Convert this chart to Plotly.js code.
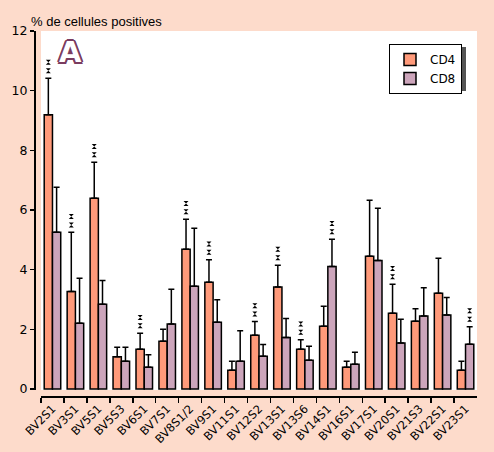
<!DOCTYPE html>
<html>
<head>
<meta charset="utf-8">
<script src="https://cdn.plot.ly/plotly-3.0.1.min.js"></script>
<style>html,body{margin:0;padding:0;background:#FDDBCB;}</style>
</head>
<body>
<div id="chart" style="width:494px;height:452px;"></div>
<script>
const categories = ["BV2S1","BV3S1","BV5S1","BV5S3","BV6S1","BV7S1","BV8S1/2","BV9S1","BV11S1","BV12S2","BV13S1","BV13S6","BV14S1","BV16S1","BV17S1","BV20S1","BV21S3","BV22S1","BV23S1"];
const cd4 = [9.19,3.27,6.39,1.08,1.33,1.60,4.68,3.58,0.63,1.80,3.42,1.33,2.10,0.73,4.45,2.54,2.27,3.21,0.63];
const cd4Err = [1.23,1.98,1.21,0.32,0.54,0.40,1.01,0.75,0.30,0.46,0.73,0.32,0.67,0.20,1.88,0.97,0.42,1.17,0.30];
const cd8 = [5.25,2.20,2.84,0.93,0.73,2.18,3.44,2.24,0.93,1.10,1.73,0.96,4.11,0.83,4.31,1.54,2.45,2.48,1.50];
const cd8Err = [1.51,1.51,0.80,0.47,0.42,1.16,1.95,0.75,1.02,0.39,0.63,0.47,0.91,0.40,1.75,0.80,0.94,0.59,0.59];
const cd4Sig = [1,1,1,0,1,0,1,1,0,1,1,1,0,0,0,1,0,0,0];
const cd8Sig = [0,0,0,0,0,0,0,0,0,0,0,0,1,0,0,0,0,0,1];
const yTitle = "% de cellules positives";
const seriesNames = ["CD4","CD8"];

const C4 = "#FF9A7A", C8 = "#CCA5BB", BG = "#FDDBCB";
const W = 494, H = 452;
const BW = 0.36;

function stars(vals, errs, sig, shift){
  const xs = [], ys = [];
  vals.forEach((v,i)=>{
    if(sig[i]){
      const top = v + errs[i];
      xs.push(i+shift, i+shift);
      ys.push(top+0.25, top+0.53);
    }
  });
  return {x:xs, y:ys, xaxis:'x2', yaxis:'y', type:'scatter', mode:'markers',
    marker:{symbol:'hourglass', size:5, color:'black', line:{width:0}},
    showlegend:false, hoverinfo:'skip'};
}

const err = (a)=>({type:'data', symmetric:false, array:a, arrayminus:a.map(()=>0), color:'black', thickness:1.5, width:3});

const traces = [
  {type:'bar', name:seriesNames[0], x:categories, y:cd4, width:BW, offset:-BW,
   marker:{color:C4, line:{color:'black', width:1.5}}, error_y:err(cd4Err)},
  {type:'bar', name:seriesNames[1], x:categories, y:cd8, width:BW, offset:0,
   marker:{color:C8, line:{color:'black', width:1.5}}, error_y:err(cd8Err)},
  stars(cd4, cd4Err, cd4Sig, -BW/2),
  stars(cd8, cd8Err, cd8Sig, BW/2)
];

const font = {family:"DejaVu Sans, Liberation Sans, sans-serif", color:"black"};
const A = "#7A3C60";
const layout = {
  width:W, height:H,
  margin:{l:0,r:0,t:0,b:0},
  paper_bgcolor:BG, plot_bgcolor:"white",
  barmode:'overlay',
  font:font,
  title:{text:yTitle, x:31/W, xanchor:'left', xref:'paper', y:1-21/H, yanchor:'middle', yref:'paper',
         font:{family:"Liberation Sans, sans-serif", size:13, color:'black'}},
  xaxis:{type:'category', domain:[41/W, 477/W], anchor:'free', position:56/H,
         range:[-0.5,18.5], tickson:'boundaries', ticks:'outside', ticklen:5, tickwidth:1.5, tickcolor:'black',
         showline:true, linecolor:'black', linewidth:1.5, showgrid:false, zeroline:false,
         tickangle:-45, tickfont:{family:"DejaVu Sans, sans-serif", size:11.5, color:'black'}},
  xaxis2:{overlaying:'x', range:[-0.5,18.5], visible:false, anchor:'y'},
  yaxis:{domain:[62/H, 421/H], anchor:'free', position:34/W, range:[-0.034,12.0],
         dtick:2, ticks:'outside', ticklen:4, tickwidth:1.5, tickcolor:'black',
         showline:true, linecolor:'black', linewidth:1.5, showgrid:false, zeroline:false,
         tickfont:{family:"DejaVu Sans, sans-serif", size:12.5, color:'black'}},
  legend:{x:389/W, y:1-44/H, xanchor:'left', yanchor:'top', bgcolor:'white', bordercolor:'black', borderwidth:1,
          font:{family:"DejaVu Sans, sans-serif", size:12, color:'black'}, tracegroupgap:2, itemwidth:30},
  shapes:[
    {type:'rect', xref:'paper', yref:'paper', x0:392/W, x1:466/W, y0:1-91/H, y1:1-47/H,
     fillcolor:'#555555', line:{width:0}, layer:'above'}
  ],
  annotations:[
    {text:'<b>A</b>', xref:'paper', yref:'paper', x:70/W, y:1-52/H, xanchor:'center', yanchor:'middle', showarrow:false,
     font:{family:"DejaVu Sans, sans-serif", size:29, color:'white',
       shadow:"2px 0 0 "+A+", -2px 0 0 "+A+", 0 2px 0 "+A+", 0 -2px 0 "+A+", 1.5px 1.5px 0 "+A+", -1.5px -1.5px 0 "+A+", 1.5px -1.5px 0 "+A+", -1.5px 1.5px 0 "+A}}
  ]
};

Plotly.newPlot('chart', traces, layout, {displayModeBar:false, staticPlot:true});
</script>
</body>
</html>
